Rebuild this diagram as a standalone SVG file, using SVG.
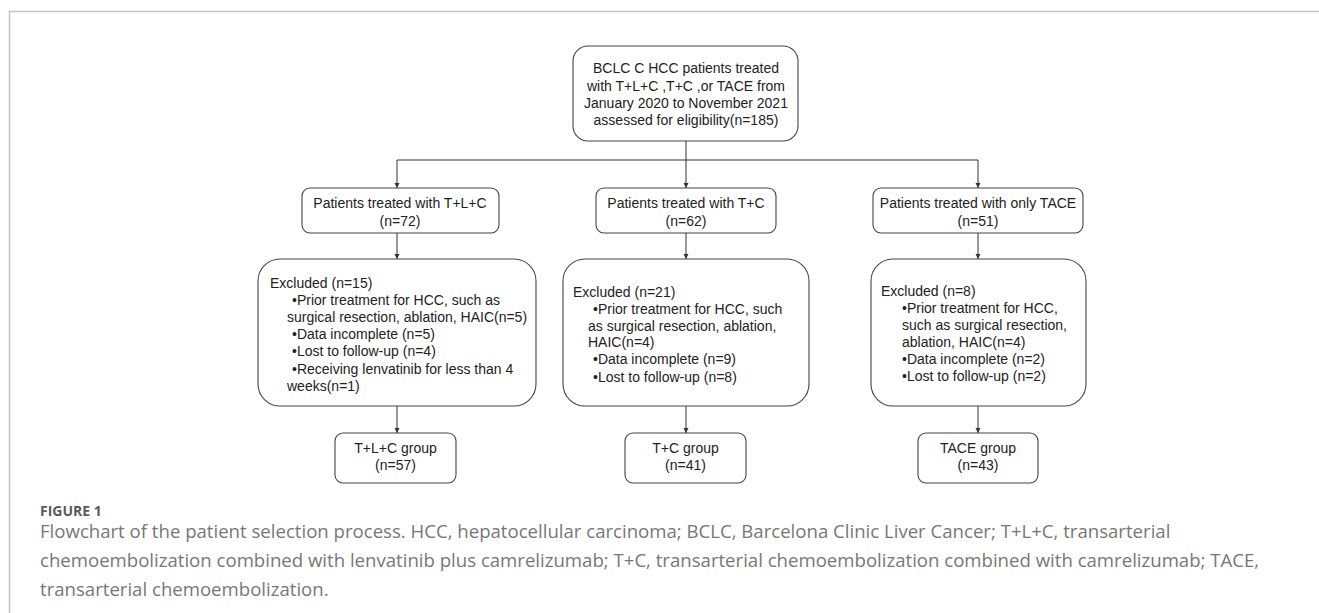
<svg xmlns="http://www.w3.org/2000/svg" width="1319" height="613" viewBox="0 0 1319 613">
<defs>
<marker id="ah" markerWidth="6" markerHeight="6" refX="5" refY="3" orient="auto" markerUnits="userSpaceOnUse">
<path d="M0,0.5 L5,3 L0,5.5 Z" fill="#333"/>
</marker>
<style>
.box{fill:#fff;stroke:#444;stroke-width:1.1}
.t{font-family:"Liberation Sans",Arial,sans-serif;font-size:14px;fill:#222}
.c{text-anchor:middle}
.ln{stroke:#333;stroke-width:1;fill:none}
.ar{stroke:#333;stroke-width:1;fill:none;marker-end:url(#ah)}
.fig{font-family:"Open Sans",sans-serif;font-size:14px;font-weight:bold;fill:#5a5a5a}
.cap{font-family:"Open Sans",sans-serif;font-size:18.6px;fill:#777}
</style>
</defs>
<rect width="1319" height="613" fill="#fff"/>
<path d="M9.5,613 V11.5 H1319" fill="none" stroke="#c4c4c4" stroke-width="1.5"/>

<g id="connectors">
<line class="ln" x1="686" y1="141" x2="686" y2="160"/>
<line class="ln" x1="397" y1="160" x2="978" y2="160"/>
<line class="ar" x1="397" y1="160" x2="397" y2="188"/>
<line class="ar" x1="686" y1="160" x2="686" y2="188"/>
<line class="ar" x1="978" y1="160" x2="978" y2="188"/>
<line class="ar" x1="397" y1="233" x2="397" y2="259"/>
<line class="ar" x1="686" y1="233" x2="686" y2="259"/>
<line class="ar" x1="978" y1="233" x2="978" y2="259"/>
<line class="ar" x1="397" y1="406" x2="397" y2="433"/>
<line class="ar" x1="686" y1="406" x2="686" y2="433"/>
<line class="ar" x1="978" y1="406" x2="978" y2="433"/>
</g>

<g id="top">
<rect class="box" x="573" y="46" width="225" height="95" rx="15"/>
<text class="t c" x="686" y="73">BCLC C HCC patients treated</text>
<text class="t c" x="686" y="91">with T+L+C ,T+C ,or TACE from</text>
<text class="t c" x="686" y="108">January 2020 to November 2021</text>
<text class="t c" x="686" y="125">assessed for eligibility(n=185)</text>
</g>

<g id="tlc">
<rect class="box" x="302" y="188" width="197" height="45" rx="8"/>
<text class="t c" x="400" y="208">Patients treated with T+L+C</text>
<text class="t c" x="400" y="226">(n=72)</text>
</g>
<g id="tc">
<rect class="box" x="596" y="188" width="180" height="45" rx="8"/>
<text class="t c" x="686" y="208">Patients treated with T+C</text>
<text class="t c" x="686" y="226">(n=62)</text>
</g>
<g id="tace">
<rect class="box" x="873" y="188" width="210" height="45" rx="8"/>
<text class="t c" x="978" y="208">Patients treated with only TACE</text>
<text class="t c" x="978" y="226">(n=51)</text>
</g>

<g id="ex-tlc">
<rect class="box" x="258" y="259" width="278" height="147" rx="22"/>
<text class="t" x="270" y="288">Excluded (n=15)</text>
<text class="t" x="292" y="305">•Prior treatment for HCC, such as</text>
<text class="t" x="287" y="322">surgical resection, ablation, HAIC(n=5)</text>
<text class="t" x="292" y="339">•Data incomplete (n=5)</text>
<text class="t" x="292" y="356">•Lost to follow-up (n=4)</text>
<text class="t" x="292" y="374">•Receiving lenvatinib for less than 4</text>
<text class="t" x="287" y="391">weeks(n=1)</text>
</g>
<g id="ex-tc">
<rect class="box" x="563" y="259" width="246" height="147" rx="22"/>
<text class="t" x="573" y="297">Excluded (n=21)</text>
<text class="t" x="593" y="314">•Prior treatment for HCC, such</text>
<text class="t" x="588" y="331">as surgical resection, ablation,</text>
<text class="t" x="588" y="347">HAIC(n=4)</text>
<text class="t" x="593" y="364">•Data incomplete (n=9)</text>
<text class="t" x="593" y="382">•Lost to follow-up (n=8)</text>
</g>
<g id="ex-tace">
<rect class="box" x="871" y="259" width="215" height="147" rx="22"/>
<text class="t" x="881" y="296">Excluded (n=8)</text>
<text class="t" x="902" y="313">•Prior treatment for HCC,</text>
<text class="t" x="902" y="330">such as surgical resection,</text>
<text class="t" x="902" y="347">ablation, HAIC(n=4)</text>
<text class="t" x="902" y="364">•Data incomplete (n=2)</text>
<text class="t" x="902" y="381">•Lost to follow-up (n=2)</text>
</g>

<g id="g-tlc">
<rect class="box" x="335" y="433" width="121" height="50" rx="8"/>
<text class="t c" x="395.5" y="453">T+L+C group</text>
<text class="t c" x="395.5" y="470">(n=57)</text>
</g>
<g id="g-tc">
<rect class="box" x="625" y="433" width="121" height="50" rx="8"/>
<text class="t c" x="685.5" y="453">T+C group</text>
<text class="t c" x="685.5" y="470">(n=41)</text>
</g>
<g id="g-tace">
<rect class="box" x="918" y="433" width="120" height="50" rx="8"/>
<text class="t c" x="978" y="453">TACE group</text>
<text class="t c" x="978" y="470">(n=43)</text>
</g>

<g id="caption">
<text class="fig" x="40" y="516">FIGURE 1</text>
<text class="cap" x="40" y="538">Flowchart of the patient selection process. HCC, hepatocellular carcinoma; BCLC, Barcelona Clinic Liver Cancer; T+L+C, transarterial</text>
<text class="cap" x="40" y="567">chemoembolization combined with lenvatinib plus camrelizumab; T+C, transarterial chemoembolization combined with camrelizumab; TACE,</text>
<text class="cap" x="40" y="596">transarterial chemoembolization.</text>
</g>
</svg>
